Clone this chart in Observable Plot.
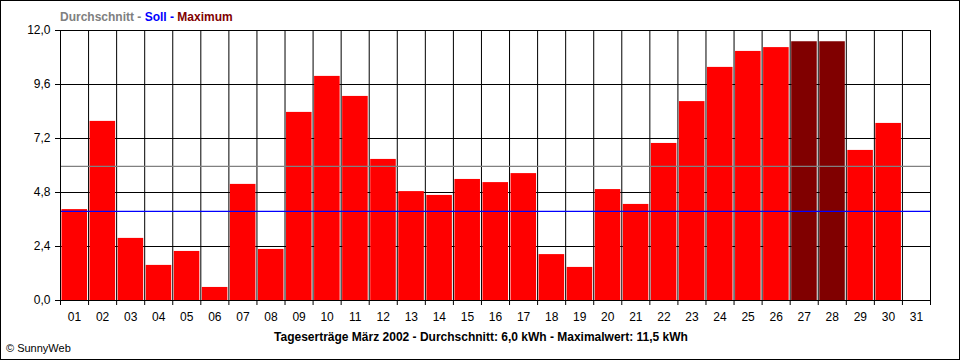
<!DOCTYPE html>
<html><head><meta charset="utf-8">
<script src="https://cdn.jsdelivr.net/npm/d3@7"></script>
<script src="https://cdn.jsdelivr.net/npm/@observablehq/plot@0.6"></script>
<style>body{margin:0;background:#fff}</style>
</head><body><div id="chart"></div>
<script>
const days = ["01","02","03","04","05","06","07","08","09","10","11","12","13","14","15","16","17","18","19","20","21","22","23","24","25","26","27","28","29","30","31"];
const ertrag = [4.04, 7.96, 2.76, 1.56, 2.18, 0.58, 5.16, 2.27, 8.36, 9.96, 9.07, 6.27, 4.84, 4.67, 5.38, 5.24, 5.64, 2.04, 1.47, 4.93, 4.27, 6.98, 8.84, 10.36, 11.07, 11.24, 11.5, 11.5, 6.67, 7.87, null];
const maxDays = ["27", "28"];
const yTicks = [0, 2.4, 4.8, 7.2, 9.6, 12];
const durchschnitt = 5.96;
const soll = 3.96;
const titleParts = [
  {text: "Durchschnitt - ", color: "#808080"},
  {text: "Soll - ", color: "#0000ff"},
  {text: "Maximum", color: "#800000"}
];
const caption = "Tageserträge März 2002 - Durchschnitt: 6,0 kWh - Maximalwert: 11,5 kWh";
const copyright = "© SunnyWeb";

const data = days.map((day, i) => ({day, i, value: ertrag[i], isMax: maxDays.includes(day)}))
  .filter(d => d.value != null);
const fmt = v => v.toFixed(1).replace(".", ",");
const edges = d3.range(0, days.length + 1);
const centers = days.map((d, i) => i + 0.5);

const chart = Plot.plot({
  width: 960, height: 360,
  marginLeft: 60, marginRight: 30, marginTop: 30, marginBottom: 60,
  style: {fontFamily: "'Liberation Sans', Arial, sans-serif", fontSize: "12px", background: "#fff", color: "#000"},
  x: {type: "linear", domain: [0, days.length], label: null},
  y: {domain: [0, 12], label: null},
  marks: [
    Plot.gridY(yTicks, {stroke: "#000", strokeOpacity: 1}),
    Plot.gridX(edges, {stroke: "#000", strokeOpacity: 1}),
    Plot.rectY(data, {x1: "i", x2: d => d.i + 1, y: "value", fill: d => d.isMax ? "#800000" : "#ff0000", insetLeft: 1.5, insetRight: 1}),
    Plot.ruleY([durchschnitt], {stroke: "#808080", strokeWidth: 1.2}),
    Plot.ruleY([soll], {stroke: "#0000ff", strokeWidth: 1.2}),
    Plot.frame({stroke: "#000"}),
    Plot.axisY(yTicks, {tickSize: 5, tickPadding: 5, tickFormat: fmt, stroke: "#000", label: null}),
    Plot.axisX(edges, {tickSize: 5, tickFormat: () => "", stroke: "#000", label: null}),
    Plot.axisX(centers, {tickSize: 0, tickPadding: 12, tickFormat: v => days[Math.floor(v)], label: null})
  ]
});

const svg = d3.select(chart);
svg.append("rect").attr("x", 0.5).attr("y", 0.5).attr("width", 959).attr("height", 359)
  .attr("fill", "none").attr("stroke", "#000");
const t = svg.append("text").attr("x", 60).attr("y", 21).attr("text-anchor", "start")
  .attr("font-family", "'Liberation Sans', Arial, sans-serif").attr("font-size", 12).attr("font-weight", "bold");
titleParts.forEach(p => t.append("tspan").attr("fill", p.color).text(p.text));
svg.append("text").attr("x", 481).attr("y", 341).attr("text-anchor", "middle")
  .attr("font-family", "'Liberation Sans', Arial, sans-serif").attr("font-size", 12).attr("font-weight", "bold")
  .attr("fill", "#000").text(caption);
svg.append("text").attr("x", 6).attr("y", 352).attr("text-anchor", "start")
  .attr("font-family", "'Liberation Sans', Arial, sans-serif").attr("font-size", 11)
  .attr("fill", "#000").text(copyright);

document.getElementById("chart").appendChild(chart);
</script>
</body></html>
